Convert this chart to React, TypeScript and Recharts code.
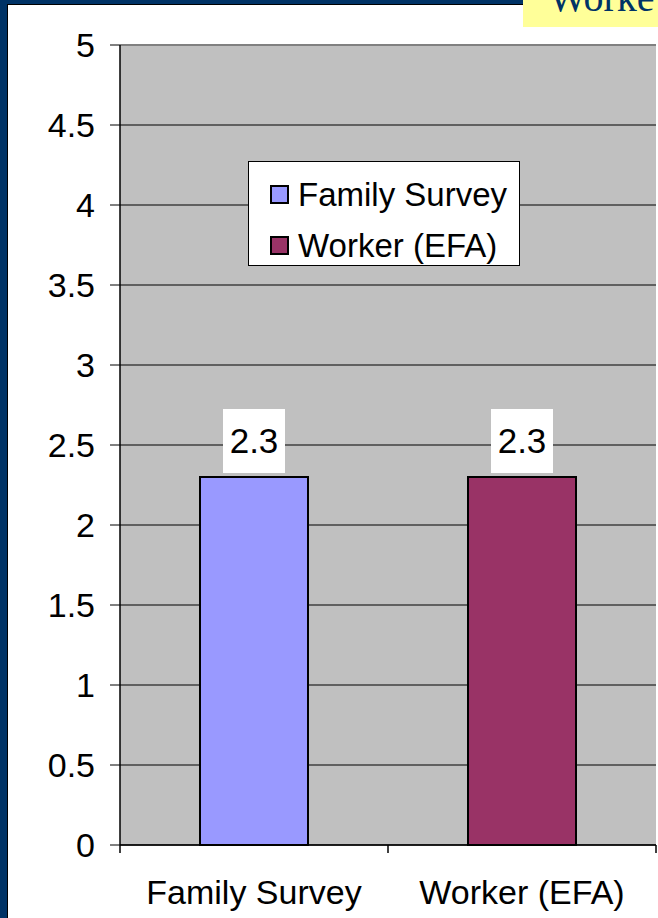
import React from "react";
import { BarChart, Bar, XAxis, YAxis, CartesianGrid, Cell, LabelList, Legend, ReferenceLine } from "recharts";

const categories = ["Family Survey", "Worker (EFA)"];
const values = [2.3, 2.3];
const colors = ["#9999FF", "#993366"];
const yTicks = [0, 0.5, 1, 1.5, 2, 2.5, 3, 3.5, 4, 4.5, 5];
const titleFragment = "Worke";

const data = categories.map((name, i) => ({ name, value: values[i] }));

const FONT = "Arial, 'Liberation Sans', sans-serif";

const XTick = (props: any) => {
  const { x, y, payload, width, visibleTicksCount } = props;
  const half =
    width && visibleTicksCount ? width / visibleTicksCount / 2 : payload?.offset || 0;
  const isLast = payload.index === categories.length - 1;
  return (
    <g>
      <line x1={x - half} x2={x - half} y1={y} y2={y + 8} stroke="#000" strokeWidth={1.5} />
      {isLast && <line x1={x + half} x2={x + half} y1={y} y2={y + 8} stroke="#000" strokeWidth={1.5} />}
      <text x={x} y={y + 59} textAnchor="middle" fontFamily={FONT} fontSize={34} fill="#000">
        {payload.value}
      </text>
    </g>
  );
};

const ValueLabel = (props: any) => {
  const { x, y, width, value } = props;
  const cx = x + width / 2;
  const boxW = 62;
  const boxH = 64;
  const boxBottom = y - 4;
  return (
    <g>
      <rect x={cx - boxW / 2} y={boxBottom - boxH} width={boxW} height={boxH} fill="#fff" />
      <text x={cx} y={boxBottom - 20} textAnchor="middle" fontFamily={FONT} fontSize={35} fill="#000">
        {value}
      </text>
    </g>
  );
};

const LegendBox = () => (
  <div
    style={{
      width: 272,
      height: 105,
      boxSizing: "border-box",
      border: "1px solid #000",
      background: "#fff",
      fontFamily: FONT,
      fontSize: 33,
      color: "#000",
      paddingTop: 7,
    }}
  >
    {categories.map((c, i) => (
      <div key={c} style={{ display: "flex", alignItems: "center", height: 51, paddingLeft: 21 }}>
        <span
          style={{
            display: "inline-block",
            width: 19,
            height: 19,
            boxSizing: "border-box",
            border: "2px solid #000",
            background: colors[i],
            marginRight: 9,
          }}
        />
        <span style={{ lineHeight: "51px" }}>{c}</span>
      </div>
    ))}
  </div>
);

export default function App() {
  return (
    <div
      style={{
        position: "absolute",
        left: 0,
        top: 0,
        width: 658,
        height: 918,
        overflow: "hidden",
        background: "#003366",
      }}
    >
      <div
        style={{
          position: "absolute",
          left: 7,
          top: 4,
          right: 0,
          bottom: 0,
          background: "#fff",
          borderLeft: "1px solid #000",
          borderTop: "1px solid #000",
        }}
      />
      <svg
        width={135}
        height={27}
        style={{ position: "absolute", left: 523, top: 0, background: "#FFFF99" }}
      >
        <text x={26} y={11} fontFamily="'Times New Roman', 'Liberation Serif', serif" fontSize={40} fill="#003366">
          {titleFragment}
        </text>
      </svg>
      <div style={{ position: "absolute", left: 0, top: 0 }}>
        <BarChart
          width={658}
          height={918}
          data={data}
          margin={{ top: 45, right: 2, bottom: 13, left: 0 }}
        >
          <CartesianGrid fill="#C0C0C0" vertical={false} stroke="#000" strokeWidth={1} />
          <ReferenceLine y={5} stroke="#808080" strokeWidth={2} />
          <YAxis
            yAxisId="right"
            orientation="right"
            width={0}
            domain={[0, 5]}
            tick={false}
            tickLine={false}
            axisLine={{ stroke: "#808080", strokeWidth: 2 }}
          />
          <XAxis
            dataKey="name"
            height={60}
            tickLine={false}
            tickSize={0}
            tickMargin={0}
            axisLine={{ stroke: "#000", strokeWidth: 1.5 }}
            tick={<XTick />}
            interval={0}
          />
          <YAxis
            width={120}
            domain={[0, 5]}
            ticks={yTicks}
            interval={0}
            tickSize={10}
            tickMargin={15}
            axisLine={{ stroke: "#000", strokeWidth: 1.5 }}
            tickLine={{ stroke: "#000", strokeWidth: 1 }}
            tick={{ fontFamily: FONT, fontSize: 34, fill: "#000" }}
          />
          <Legend
            layout="vertical"
            align="center"
            verticalAlign="middle"
            content={<LegendBox />}
            wrapperStyle={{ position: "absolute", left: 248, top: 161, width: 272, height: 105 }}
          />
          <Bar dataKey="value" barSize={108} stroke="#000" strokeWidth={2} isAnimationActive={false}>
            {data.map((d, i) => (
              <Cell key={d.name} fill={colors[i]} />
            ))}
            <LabelList dataKey="value" content={<ValueLabel />} />
          </Bar>
        </BarChart>
      </div>
    </div>
  );
}
